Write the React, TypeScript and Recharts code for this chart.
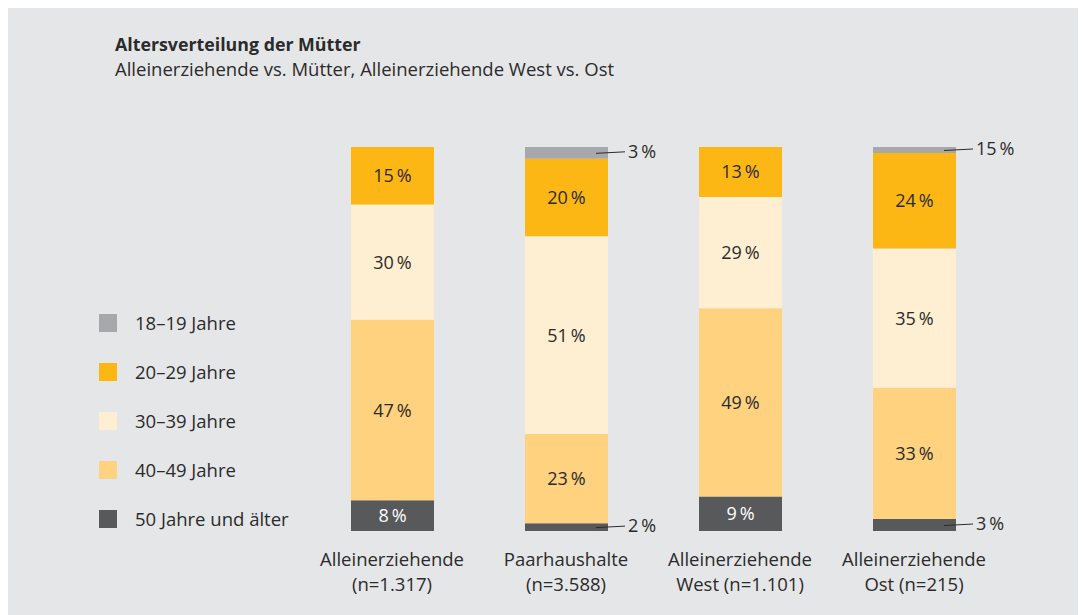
import { BarChart, Bar, XAxis, YAxis, LabelList, Legend } from "recharts";

const FONT = "'Open Sans', 'Noto Sans', sans-serif";
const TEXT = "#2b2b2b";

const categories = [
  "Alleinerziehende\n(n=1.317)",
  "Paarhaushalte\n(n=3.588)",
  "Alleinerziehende\nWest (n=1.101)",
  "Alleinerziehende\nOst (n=215)",
];

// shares in percent, one entry per category
const age18 = [0, 3, 0, 1.5];
const age20 = [15, 20, 13, 24];
const age30 = [30, 51, 29, 35];
const age40 = [47, 23, 49, 33];
const age50 = [8, 2, 9, 3];

// the 18–19 label for "Ost" is printed as "15 %" in the source
const age18Printed = ["", "3", "", "15"];

const seriesNames = ["18–19 Jahre", "20–29 Jahre", "30–39 Jahre", "40–49 Jahre", "50 Jahre und älter"];
const colors = ["#a7a8ab", "#fcb715", "#feefd2", "#fed27e", "#58595b"];

const data = categories.map((name, i) => ({
  name,
  a18: age18[i],
  a18Text: age18Printed[i],
  a20: age20[i],
  a30: age30[i],
  a40: age40[i],
  a50: age50[i],
}));

const pct = (v: string | number) => `${v}\u2009%`;

function makeLabel(inside: string) {
  return (props: any) => {
    const { x, y, width, height, value } = props;
    if (!value) return null;
    const cy = y + height / 2;
    if (height >= 20) {
      return (
        <text x={x + width / 2} y={cy} dy={6.5} textAnchor="middle" fill={inside}
          fontSize={18} fontFamily={FONT}>
          {pct(value)}
        </text>
      );
    }
    const right = x + width;
    return (
      <g>
        <line x1={right - 12} y1={cy + 0.5} x2={right + 17} y2={cy - 1} stroke={TEXT} strokeWidth={1} />
        <text x={right + 20} y={cy} dy={5} fill={TEXT} fontSize={18} fontFamily={FONT}>
          {pct(value)}
        </text>
      </g>
    );
  };
}

function CategoryTick({ x, y, payload }: any) {
  const lines = String(payload.value).split("\n");
  return (
    <text x={x} y={y} textAnchor="middle" fill={TEXT} fontSize={18.5} fontFamily={FONT}>
      {lines.map((l, i) => (
        <tspan key={i} x={x} dy={i === 0 ? 27 : 25}>{l}</tspan>
      ))}
    </text>
  );
}

function AgeLegend() {
  return (
    <div style={{ fontFamily: FONT, fontSize: 18.5, color: TEXT }}>
      {seriesNames.map((n, i) => (
        <div key={n} style={{ display: "flex", alignItems: "center", height: 49 }}>
          <span style={{ width: 18, height: 18, background: colors[i], marginRight: 18 }} />
          <span>{n}</span>
        </div>
      ))}
    </div>
  );
}

export default function App() {
  return (
    <div style={{ position: "relative", width: 1078, height: 607, background: "#e5e6e8" }}>
      <div style={{ position: "absolute", left: 107, top: 26, fontFamily: FONT, fontSize: 17.8,
        fontWeight: 700, color: TEXT, lineHeight: "20px" }}>
        Altersverteilung der Mütter
      </div>
      <div style={{ position: "absolute", left: 107, top: 51, fontFamily: FONT, fontSize: 18.5,
        color: TEXT, lineHeight: "20px" }}>
        Alleinerziehende vs. Mütter, Alleinerziehende West vs. Ost
      </div>
      <BarChart width={1078} height={607} data={data} stackOffset="expand"
        margin={{ top: 139, right: 85, bottom: 14, left: 297 }} barSize={83}>
        <XAxis dataKey="name" interval={0} height={70} axisLine={false} tickLine={false}
          tick={<CategoryTick />} />
        <YAxis hide domain={[0, 1]} />
        <Legend layout="vertical" align="center" verticalAlign="middle" content={<AgeLegend />}
          wrapperStyle={{ left: 91, top: 290, width: 240 }} />
        <Bar dataKey="a50" stackId="s" fill={colors[4]} isAnimationActive={false}>
          <LabelList dataKey="a50" content={makeLabel("#ffffff")} />
        </Bar>
        <Bar dataKey="a40" stackId="s" fill={colors[3]} isAnimationActive={false}>
          <LabelList dataKey="a40" content={makeLabel(TEXT)} />
        </Bar>
        <Bar dataKey="a30" stackId="s" fill={colors[2]} isAnimationActive={false}>
          <LabelList dataKey="a30" content={makeLabel(TEXT)} />
        </Bar>
        <Bar dataKey="a20" stackId="s" fill={colors[1]} isAnimationActive={false}>
          <LabelList dataKey="a20" content={makeLabel(TEXT)} />
        </Bar>
        <Bar dataKey="a18" stackId="s" fill={colors[0]} isAnimationActive={false}>
          <LabelList dataKey="a18Text" content={makeLabel(TEXT)} />
        </Bar>
      </BarChart>
    </div>
  );
}
